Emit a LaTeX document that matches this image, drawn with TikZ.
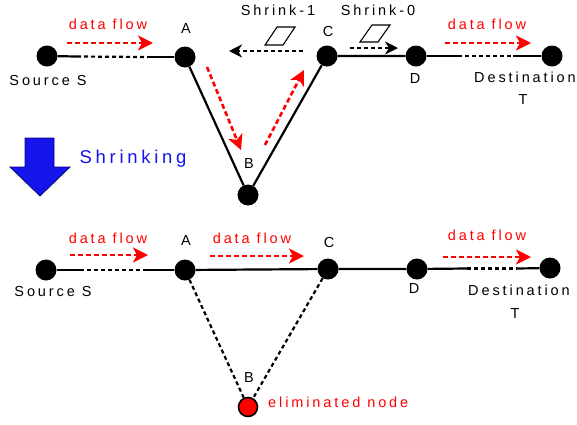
\documentclass[tikz,border=0pt]{standalone}
\usepackage{fontspec}
\setmainfont{Liberation Sans}[LetterSpace=20]
\usetikzlibrary{arrows.meta}
\definecolor{shrinkblue}{RGB}{20,20,235}
\definecolor{navy}{RGB}{10,10,120}
\tikzset{
  pnode/.style={circle, fill=black, minimum size=21pt, inner sep=0pt},
  elim/.style={circle, fill=red, draw=black, line width=1.6pt, minimum size=19pt, inner sep=0pt},
  link/.style={line width=2.2pt},
  dlink/.style={line width=2.2pt, dash pattern=on 4pt off 3pt},
  flow/.style={red, line width=2.6pt, dash pattern=on 5pt off 3pt,
    -{Stealth[length=15pt,width=15pt,inset=4pt]}},
  shrinkarr/.style={black, line width=2.2pt, dash pattern=on 4pt off 3pt,
    -{Stealth[length=13pt,width=13pt,inset=4pt]}},
  lbl/.style={font=\fontsize{14.5}{17}\selectfont, anchor=base, inner sep=0pt},
  redlbl/.style={lbl, text=red},
  token/.style={draw=black, fill=white, line width=1.1pt, line join=miter}
}
\begin{document}
\begin{tikzpicture}[x=1pt,y=-1pt]
\useasboundingbox (0,0) rectangle (577,424);

% ---------- before shrinking ----------
\node[pnode] (S1) at (47,56) {};
\node[pnode] (A1) at (185,57) {};
\node[pnode] (C1) at (327,56) {};
\node[pnode] (D1) at (416,56) {};
\node[pnode] (T1) at (552,56) {};
\node[pnode] (B1) at (248,195) {};

\coordinate (sa1) at (77,56.5);
\coordinate (sa2) at (148,57);
\coordinate (dt1) at (458,56);
\coordinate (dt2) at (513,56);

\draw[link] (S1) -- (sa1);
\draw[dlink] (sa1) -- (sa2);
\draw[link] (sa2) -- (A1);
\draw[link] (A1) -- (B1) -- (C1) -- (D1);
\draw[link] (D1) -- (dt1);
\draw[dlink] (dt1) -- (dt2);
\draw[link] (dt2) -- (T1);

\node[lbl] (lS1) at (48,85) {Source S};
\node[lbl] (lA1) at (186,33) {A};
\node[lbl] (lC1) at (328,36) {C};
\node[lbl] (lD1) at (415,83) {D};
\node[lbl] (lT1a) at (525,82) {Destination};
\node[lbl] (lT1b) at (523,104) {T};
\node[lbl] (lB1) at (249,168) {B};

% data flow, top row
\coordinate (f1s) at (67,43);
\coordinate (f1e) at (153,43);
\draw[flow] (f1s) -- (f1e);
\node[redlbl] (df1) at (108,29) {data flow};
\coordinate (f2s) at (445,43);
\coordinate (f2e) at (531,43);
\draw[flow] (f2s) -- (f2e);
\node[redlbl] (df2) at (487,29) {data flow};
\coordinate (fab1) at (207,67);
\coordinate (fab2) at (241,150);
\draw[flow] (fab1) -- (fab2);
\coordinate (fbc1) at (265,145);
\coordinate (fbc2) at (304,70);
\draw[flow] (fbc1) -- (fbc2);

% shrink messages
\coordinate (s1s) at (303,51);
\coordinate (s1e) at (229,51);
\draw[shrinkarr] (s1s) -- (s1e);
\draw[token] (265,45) -- (277,27) -- (295,27) -- (283,45) -- cycle;
\node[lbl] (ls1) at (278,15) {Shrink-1};
\coordinate (s0s) at (350,48);
\coordinate (s0e) at (398,48);
\draw[shrinkarr] (s0s) -- (s0e);
\draw[token] (360,42) -- (372,25) -- (390,25) -- (378,42) -- cycle;
\node[lbl] (ls0) at (378,15) {Shrink-0};

% ---------- shrinking step ----------
\draw[fill=shrinkblue, draw=navy, line width=0.8pt]
  (25,138) -- (54,138) -- (54,167) -- (70,167) -- (40,196) -- (10,167) -- (25,167) -- cycle;
\node[lbl, text=shrinkblue, font=\fontsize{18.5}{20}\selectfont] (lshr) at (133,163) {Shrinking};

% ---------- after shrinking ----------
\node[pnode] (S2) at (46,270) {};
\node[pnode] (A2) at (185,270) {};
\node[pnode] (C2) at (328,269) {};
\node[pnode] (D2) at (417,269) {};
\node[pnode] (T2) at (550,268) {};
\node[elim] (B2) at (248,407) {};

\coordinate (sb1) at (80,270);
\coordinate (sb2) at (145,270);
\coordinate (db1) at (467,268.5);
\coordinate (db2) at (517,268.5);

\draw[link] (S2) -- (sb1);
\draw[dlink] (sb1) -- (sb2);
\draw[link] (sb2) -- (A2);
\draw[link] (A2) -- (C2) -- (D2);
\draw[link] (D2) -- (db1);
\draw[dlink] (db1) -- (db2);
\draw[link] (db2) -- (T2);
\draw[dlink] (A2) -- (B2);
\draw[dlink] (C2) -- (B2);

\node[lbl] (lS2) at (53,296) {Source S};
\node[lbl] (lA2) at (186,245) {A};
\node[lbl] (lC2) at (329,247) {C};
\node[lbl] (lD2) at (414,293) {D};
\node[lbl] (lT2a) at (519,295) {Destination};
\node[lbl] (lT2b) at (515,318) {T};
\node[lbl] (lB2) at (249,382) {B};
\node[redlbl, anchor=base west] (lel) at (268,407) {eliminated node};

\coordinate (g1s) at (70,255);
\coordinate (g1e) at (148,255);
\draw[flow] (g1s) -- (g1e);
\node[redlbl] (dg1) at (108,243) {data flow};
\coordinate (g2s) at (210,256);
\coordinate (g2e) at (304,256);
\draw[flow] (g2s) -- (g2e);
\node[redlbl] (dg2) at (252,243) {data flow};
\coordinate (g3s) at (443,257);
\coordinate (g3e) at (531,257);
\draw[flow] (g3s) -- (g3e);
\node[redlbl] (dg3) at (487,240) {data flow};
\end{tikzpicture}
\end{document}
